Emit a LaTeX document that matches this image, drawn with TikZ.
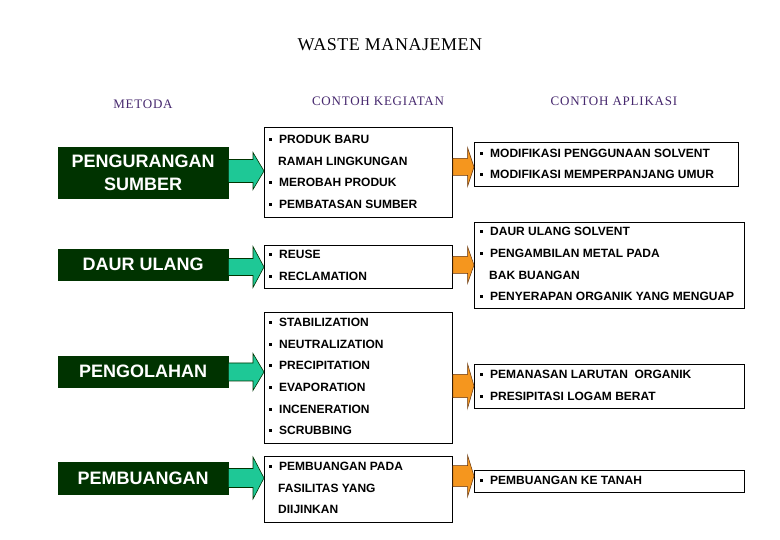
\documentclass[tikz,border=0pt]{standalone}
\usepackage{fontspec}
\setmainfont{Liberation Sans}
\newfontfamily\titlefont[LetterSpace=3]{Liberation Serif}
\newfontfamily\headfont[LetterSpace=6]{Liberation Serif}
\usetikzlibrary{calc}
\definecolor{dkgreen}{RGB}{0,51,0}
\definecolor{agreen}{RGB}{30,200,150}
\definecolor{aorange}{RGB}{245,150,30}
\definecolor{aoutline}{RGB}{100,50,10}
\definecolor{hpurple}{RGB}{70,40,110}
\newcommand\bul{\makebox[10pt][l]{\rule[2.6pt]{3pt}{3pt}}}
\newcommand\blockarr[7]{%
  \draw[#1] let \p1=(#2.east), \p2=(#3.west) in
    (\x1,#4-#5) -- (\x2-#7,#4-#5) -- (\x2-#7,#4-#6) -- (\x2,#4)
    -- (\x2-#7,#4+#6) -- (\x2-#7,#4+#5) -- (\x1,#4+#5) -- cycle;}
\begin{document}
\begin{tikzpicture}[x=1pt,y=-1pt,
  metbox/.style={draw=dkgreen, fill=dkgreen, text=white, anchor=north west,
    font=\fontsize{18}{23}\selectfont\bfseries, align=center, inner sep=0,
    minimum width=170pt},
  wbox/.style={draw=black, line width=0.8pt, fill=white, anchor=north west, inner sep=0},
  txt/.style={anchor=base west, inner sep=0, font=\fontsize{12}{14}\selectfont\bfseries},
  hdr/.style={text=hpurple, font=\headfont\fontsize{13}{15}\selectfont, inner sep=0},
  garr/.style={fill=agreen, draw=dkgreen, line width=0.6pt, line join=miter},
  oarr/.style={fill=aorange, draw=aoutline, line width=0.5pt, line join=miter}
]
\useasboundingbox (0,0) rectangle (780,540);
\fill[white] (0,0) rectangle (780,540);

% title and headers
\node[font=\titlefont\fontsize{18}{20}\selectfont, inner sep=0] (title) at (390,45) {WASTE MANAJEMEN};
\node[hdr] (h1) at (143,104) {METODA};
\node[hdr] (h2) at (378,101) {CONTOH KEGIATAN};
\node[hdr] (h3) at (614,101) {CONTOH APLIKASI};

% method boxes
\node[metbox, minimum height=51pt] (L1) at (58,147) {PENGURANGAN\\SUMBER};
\node[metbox, minimum height=31pt] (L2) at (58,249) {DAUR ULANG};
\node[metbox, minimum height=31pt] (L3) at (58,356) {PENGOLAHAN};
\node[metbox, minimum height=32pt] (L4) at (58,462) {PEMBUANGAN};

% activity boxes
\node[wbox, minimum width=188pt, minimum height=90pt] (M1) at (264,127) {};
\node[wbox, minimum width=188pt, minimum height=43pt] (M2) at (264,245) {};
\node[wbox, minimum width=188pt, minimum height=131pt] (M3) at (264,312) {};
\node[wbox, minimum width=188pt, minimum height=66pt] (M4) at (264,456) {};

% application boxes
\node[wbox, minimum width=264pt, minimum height=44pt] (R1) at (474,142) {};
\node[wbox, minimum width=270pt, minimum height=86pt] (R2) at (474,222) {};
\node[wbox, minimum width=270pt, minimum height=44pt] (R3) at (474,364) {};
\node[wbox, minimum width=270pt, minimum height=22pt] (R4) at (474,470) {};

% green arrows
\blockarr{garr}{L1}{M1}{171}{11.5}{18.5}{11pt}
\blockarr{garr}{L2}{M2}{267}{8.5}{20.5}{11pt}
\blockarr{garr}{L3}{M3}{372}{9}{18.5}{11pt}
\blockarr{garr}{L4}{M4}{478}{9.5}{21}{11pt}

% orange arrows
\blockarr{oarr}{M1}{R1}{167}{8.5}{19.5}{6.5pt}
\blockarr{oarr}{M2}{R2}{265}{8.5}{18.5}{6.5pt}
\blockarr{oarr}{M3}{R3}{386}{11.5}{22.5}{6.5pt}
\blockarr{oarr}{M4}{R4}{476}{10.5}{21}{6.5pt}

% activity texts
\node[txt] (m1a) at (269,143.3) {\bul PRODUK BARU};
\node[txt] (m1b) at (278,165.3) {RAMAH LINGKUNGAN};
\node[txt] (m1c) at (269,186.3) {\bul MEROBAH PRODUK};
\node[txt] (m1d) at (269,208.3) {\bul PEMBATASAN SUMBER};

\node[txt] (m2a) at (269,258.3) {\bul REUSE};
\node[txt] (m2b) at (269,280.3) {\bul RECLAMATION};

\node[txt] (m3a) at (269,326.3) {\bul STABILIZATION};
\node[txt] (m3b) at (269,348.3) {\bul NEUTRALIZATION};
\node[txt] (m3c) at (269,369.3) {\bul PRECIPITATION};
\node[txt] (m3d) at (269,391.3) {\bul EVAPORATION};
\node[txt] (m3e) at (269,413.3) {\bul INCENERATION};
\node[txt] (m3f) at (269,434.3) {\bul SCRUBBING};

\node[txt] (m4a) at (269,470.3) {\bul PEMBUANGAN PADA};
\node[txt] (m4b) at (278,492.3) {FASILITAS YANG};
\node[txt] (m4c) at (278,513.3) {DIIJINKAN};

% application texts
\node[txt] (r1a) at (480,157.3) {\bul MODIFIKASI PENGGUNAAN SOLVENT};
\node[txt] (r1b) at (480,178.3) {\bul MODIFIKASI MEMPERPANJANG UMUR};

\node[txt] (r2a) at (480,235.3) {\bul DAUR ULANG SOLVENT};
\node[txt] (r2b) at (480,257.3) {\bul PENGAMBILAN METAL PADA};
\node[txt] (r2c) at (489,279.3) {BAK BUANGAN};
\node[txt] (r2d) at (480,300.3) {\bul PENYERAPAN ORGANIK YANG MENGUAP};

\node[txt] (r3a) at (480,378.3) {\bul PEMANASAN LARUTAN\ \ ORGANIK};
\node[txt] (r3b) at (480,400.3) {\bul PRESIPITASI LOGAM BERAT};

\node[txt] (r4a) at (480,484.3) {\bul PEMBUANGAN KE TANAH};
\end{tikzpicture}
\end{document}
